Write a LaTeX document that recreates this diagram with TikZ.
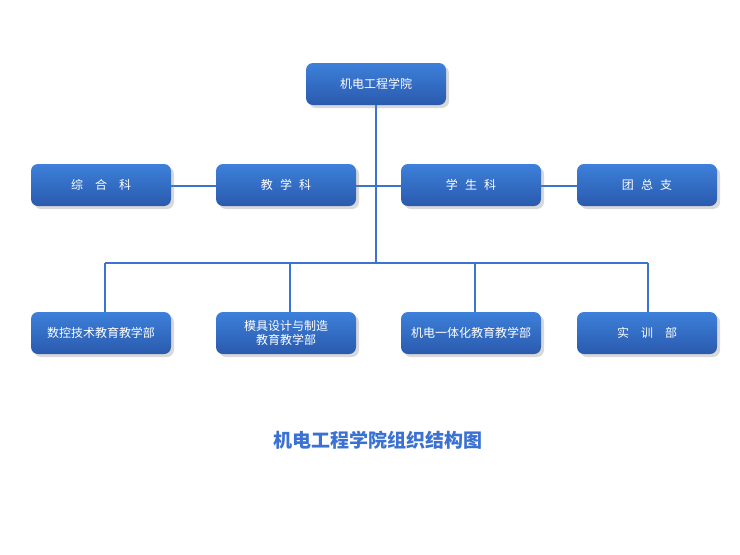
\documentclass[tikz,border=0pt]{standalone}
\usepackage{fontspec}
\newfontfamily\cjk{Noto Sans CJK SC}
\usetikzlibrary{shadows}
\definecolor{ln}{HTML}{3A74D0}
\definecolor{bt}{HTML}{3D80DA}
\definecolor{bb}{HTML}{2A5AAE}
\definecolor{tt}{HTML}{3B72D2}
\begin{document}
\begin{tikzpicture}[x=1pt,y=-1pt,
  box/.style={rounded corners=7pt,minimum width=140pt,minimum height=42pt,top color=bt,bottom color=bb,draw=none,
    text=white,font=\cjk\fontsize{12}{14}\selectfont,align=center,inner sep=2pt,
    drop shadow={shadow xshift=3pt,shadow yshift=-3pt,opacity=0.3}},
  conn/.style={draw=ln,line width=1.4pt}]
\useasboundingbox (0,0) rectangle (740,555);
\coordinate (hub) at (376,263);
\coordinate (mid) at (376,186);
\coordinate (d1) at (105,263);
\coordinate (d2) at (290,263);
\coordinate (d3) at (475,263);
\coordinate (d4) at (648,263);
\draw[conn] (376,105) -- (hub);
\draw[conn] (101,186) -- (647,186);
\draw[conn] (d1) -- (d4);
\draw[conn] (d1) -- (105,312);
\draw[conn] (d2) -- (290,312);
\draw[conn] (d3) -- (475,312);
\draw[conn] (d4) -- (648,312);
\node[box] (top) at (376,84) {机电工程学院};
\node[box] (a1) at (101,185) {综\hspace{1em}合\hspace{1em}科};
\node[box] (a2) at (286,185) {教\hspace{0.6em}学\hspace{0.6em}科};
\node[box] (a3) at (471,185) {学\hspace{0.6em}生\hspace{0.6em}科};
\node[box] (a4) at (647,185) {团\hspace{0.6em}总\hspace{0.6em}支};
\node[box] (b1) at (101,333) {数控技术教育教学部};
\node[box] (b2) at (286,333) {模具设计与制造\\教育教学部};
\node[box] (b3) at (471,333) {机电一体化教育教学部};
\node[box] (b4) at (647,333) {实\hspace{1em}训\hspace{1em}部};
\node[text=tt,font=\cjk\bfseries\fontsize{19}{22}\selectfont] (title) at (378,440) {机电工程学院组织结构图};
\end{tikzpicture}
\end{document}
